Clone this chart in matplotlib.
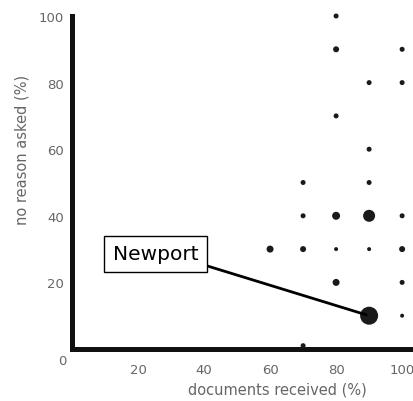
import matplotlib
matplotlib.use("Agg")
import matplotlib.pyplot as plt

# documents received (%), no reason asked (%), marker diameter (px)
docs_received = [80, 80, 100, 90, 100, 80, 90, 70, 90, 70, 80, 90, 100,
                 60, 70, 80, 90, 100, 80, 100, 90, 100, 70]
no_reason = [100, 90, 90, 80, 80, 70, 60, 50, 50, 40, 40, 40, 40,
             30, 30, 30, 30, 30, 20, 20, 10, 10, 1]
counts = [5, 6, 5, 5, 5, 5, 5, 5, 5, 5, 8, 12, 5,
          7, 6, 4, 4, 6, 7, 5, 18, 4, 5]

x_ticks = [20, 40, 60, 80, 100]
y_ticks = [20, 40, 60, 80, 100]
highlight = ("Newport", 90, 10)

W, H = 414, 402
fig = plt.figure(figsize=(W / 100, H / 100), dpi=100)
ax = fig.add_axes([72 / W, 52 / H, (W - 72) / W, 333 / H])
ax.set_xlim(0, 103.6)
ax.set_ylim(0, 100)

sizes = [(c * 0.72) ** 2 for c in counts]
ax.scatter(docs_received, no_reason, s=sizes, c="#1a1a1a", marker="o",
           linewidths=0, clip_on=False, zorder=3)

for side in ["top", "right"]:
    ax.spines[side].set_visible(False)
for side in ["left", "bottom"]:
    ax.spines[side].set_linewidth(3.6)
    ax.spines[side].set_color("#111111")

tick_col = "#666666"
ax.set_xticks(x_ticks)
ax.set_yticks(y_ticks)
ax.tick_params(length=0, labelsize=9.5, labelcolor=tick_col, pad=10)
ax.tick_params(axis="y", pad=6)
fig.text(62 / W, 1 - 362 / H, "0", ha="center", va="center", fontsize=9.5, color=tick_col)

fig.text(277 / W, 1 - 390 / H, "documents received (%)", ha="center", va="center",
         fontsize=10.5, color=tick_col)
fig.text(22 / W, 1 - 150 / H, "no reason asked (%)", ha="center", va="center",
         rotation=90, fontsize=10.5, color=tick_col)

name, hx, hy = highlight
ax.annotate(name, xy=(hx, hy), xytext=(12.4, 28.6), textcoords="data",
            fontsize=14.5, family="DejaVu Sans", ha="left", va="center",
            bbox=dict(boxstyle="square,pad=0.42", fc="white", ec="black", lw=1.0),
            arrowprops=dict(arrowstyle="-", color="black", lw=2.0,
                            shrinkA=0, shrinkB=2, relpos=(1.0, 0.0)),
            zorder=4)

fig.savefig("out.png", dpi=100)
